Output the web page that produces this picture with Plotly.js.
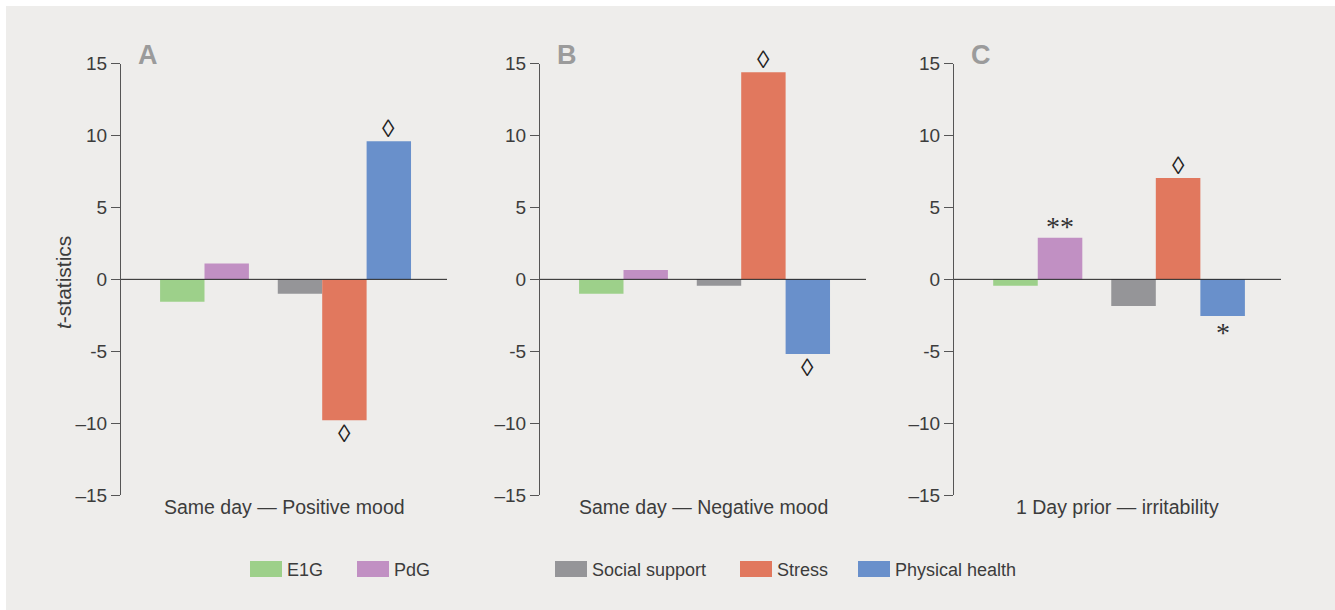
<!DOCTYPE html>
<html>
<head>
<meta charset="utf-8">
<script src="https://cdn.plot.ly/plotly-3.0.1.min.js"></script>
<style>
  html, body { margin: 0; padding: 0; background: #ffffff; width: 1335px; height: 610px; overflow: hidden; }
  #chart { position: absolute; left: 6px; top: 6px; width: 1329px; height: 604px; }
</style>
</head>
<body>
<div id="chart"></div>
<script>
// ---- data ----
const categories = ["E1G", "PdG", "Social support", "Stress", "Physical health"];
const categoryGroup = [0, 0, 1, 1, 1];
const panelLetters = ["A", "B", "C"];
const panelTitles = ["Same day — Positive mood", "Same day — Negative mood", "1 Day prior — irritability"];
const valuesA = [-1.55, 1.1, -1.0, -9.8, 9.6];
const valuesB = [-1.0, 0.65, -0.45, 14.4, -5.2];
const valuesC = [-0.45, 2.9, -1.85, 7.05, -2.55];
const sigA = ["", "", "", "◊", "◊"];
const sigB = ["", "", "", "◊", "◊"];
const sigC = ["", "**", "", "◊", "*"];
const yTickVals = [-15, -10, -5, 0, 5, 10, 15];
const yTickText = ["–15", "–10", "-5", "0", "5", "10", "15"];
const yTitle = "<i>t</i>-statistics";

// ---- styles ----
const barColors = ["#9dd08a", "#c190c3", "#959598", "#e1785e", "#6990cb"];
const bg = "#eeedeb";
const textColor = "#3c3c3c";
const fontFam = "Liberation Sans, Arial, sans-serif";
const W = 1329, H = 604;
const groupGap = 0.65;
const xPos = categories.map((c, i) => i + groupGap * categoryGroup[i]);
const panelsPx = [[115, 441], [534, 860], [948, 1275]];
const yTopPx = 57.7, yBotPx = 489;
const yDom = [(H - yBotPx) / H, (H - yTopPx) / H];

const panelValues = [valuesA, valuesB, valuesC];
const panelSig = [sigA, sigB, sigC];

const data = [];
const layout = {
  width: W, height: H,
  margin: {l: 0, r: 0, t: 0, b: 0},
  paper_bgcolor: bg, plot_bgcolor: bg,
  showlegend: false,
  font: {family: fontFam, color: textColor},
  annotations: [], shapes: []
};

panelValues.forEach((vals, p) => {
  const sfx = p === 0 ? "" : String(p + 1);
  data.push({
    type: "bar",
    x: xPos, y: vals,
    width: 1,
    marker: {color: barColors, line: {width: 0}},
    xaxis: "x" + sfx, yaxis: "y" + sfx,
    hoverinfo: "skip"
  });
  layout["xaxis" + sfx] = {
    domain: [panelsPx[p][0] / W, panelsPx[p][1] / W],
    range: [-1.38, 5.96],
    showgrid: false, zeroline: false, showline: false,
    showticklabels: false, ticks: "", fixedrange: true,
    anchor: "y" + sfx
  };
  layout["yaxis" + sfx] = {
    domain: yDom,
    range: [-15, 15],
    tickvals: yTickVals, ticktext: yTickText,
    ticks: "outside", ticklen: 9, tickwidth: 1, tickcolor: "#555",
    showline: true, linecolor: "#555", linewidth: 1,
    showgrid: false, zeroline: false,
    tickfont: {size: 19, color: textColor, family: fontFam},
    anchor: "x" + sfx, fixedrange: true
  };
  // zero line above bars
  layout.shapes.push({
    type: "line", xref: "x" + sfx + " domain", yref: "y" + sfx,
    x0: 0, x1: 1, y0: 0, y1: 0,
    line: {color: "#222", width: 1}, layer: "above"
  });
  // panel letter
  layout.annotations.push({
    xref: "x" + sfx + " domain", yref: "y" + sfx + " domain",
    x: 0, y: 1, xanchor: "left", yanchor: "middle", xshift: 15, yshift: 9,
    text: "<b>" + panelLetters[p] + "</b>", showarrow: false,
    font: {size: 27, color: "#9b9b9b", family: fontFam}
  });
  // panel x title
  layout.annotations.push({
    xref: "x" + sfx + " domain", yref: "y" + sfx + " domain",
    x: 0.5, y: 0, xanchor: "center", yanchor: "middle", yshift: -12,
    text: panelTitles[p], showarrow: false,
    font: {size: 19.5, color: textColor, family: fontFam}
  });
  // significance markers
  vals.forEach((v, i) => {
    const s = panelSig[p][i];
    if (!s) return;
    const isStar = s.indexOf("*") >= 0;
    const up = v >= 0;
    layout.annotations.push({
      xref: "x" + sfx, yref: "y" + sfx,
      x: xPos[i], y: v, xanchor: "center", yanchor: "middle",
      yshift: isStar ? (up ? 11 : -16) : (up ? 13 : -13),
      text: s, showarrow: false,
      font: isStar ? {size: 28, color: "#333", family: "Liberation Serif, Times New Roman, serif"}
                   : {size: 25, color: "#222", family: fontFam}
    });
  });
});

// y axis title (panel A)
layout.annotations.push({
  xref: "paper", yref: "paper",
  x: 57 / W, y: (H - 277) / H, xanchor: "center", yanchor: "middle",
  textangle: -90, text: yTitle, showarrow: false,
  font: {size: 21, color: textColor, family: fontFam}
});

// ---- manual legend ----
const legendLeftPx = [244, 351, 549, 734, 852];
const swTop = 555, swBot = 571, swW = 32;
categories.forEach((c, i) => {
  layout.shapes.push({
    type: "rect", xref: "paper", yref: "paper",
    x0: legendLeftPx[i] / W, x1: (legendLeftPx[i] + swW) / W,
    y0: (H - swBot) / H, y1: (H - swTop) / H,
    fillcolor: barColors[i], line: {width: 0}
  });
  layout.annotations.push({
    xref: "paper", yref: "paper",
    x: (legendLeftPx[i] + swW + 3) / W, y: (H - (swTop + swBot) / 2 - 1) / H,
    xanchor: "left", yanchor: "middle",
    text: c, showarrow: false,
    font: {size: 18, color: textColor, family: fontFam}
  });
});

Plotly.newPlot("chart", data, layout, {displayModeBar: false, staticPlot: true});
</script>
</body>
</html>
